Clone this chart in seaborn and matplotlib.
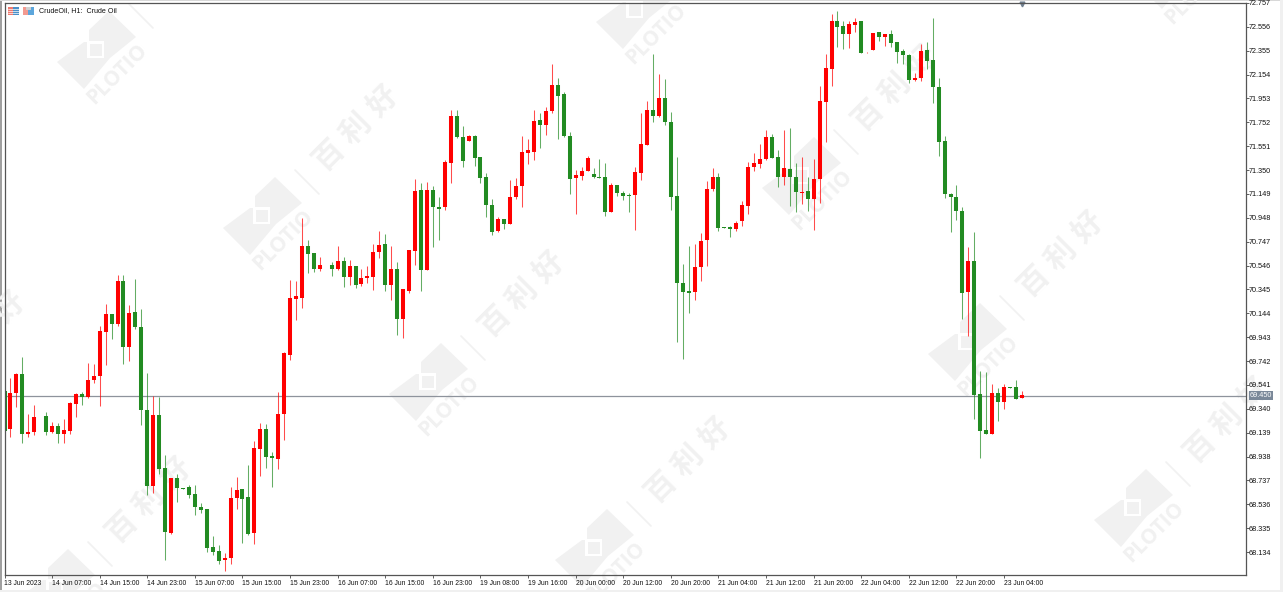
import matplotlib
matplotlib.use("Agg")
import matplotlib.pyplot as plt
from matplotlib.patches import Polygon, Rectangle
import pandas as pd
import seaborn as sns

W, H = 1283, 592
GREEN = "#228B22"
RED = "#FF0000"
MARK = "#F1F1F1"

open_prices = [
    69.493, 69.170, 69.470, 69.633, 69.128, 69.145, 69.274, 69.279, 69.145, 69.192,
    69.131, 69.156, 69.383, 69.467, 69.439, 69.582, 69.613, 69.989, 70.138, 70.051,
    70.419, 69.858, 70.155, 70.032, 69.327, 68.687, 69.288, 68.841, 68.291, 68.754,
    68.670, 68.681, 68.622, 68.516, 68.493, 68.179, 68.142, 68.069, 68.081, 68.586,
    68.662, 68.594, 68.291, 69.004, 69.170, 68.942, 68.917, 69.293, 69.793, 70.265,
    70.276, 70.711, 70.652, 70.517, 70.551, 70.551, 70.514, 70.582, 70.450, 70.539,
    70.388, 70.438, 70.450, 70.663, 70.728, 70.382, 70.514, 70.093, 70.332, 70.669,
    71.182, 70.506, 71.182, 71.039, 71.039, 71.410, 71.808, 71.631, 71.598, 71.640,
    71.457, 71.289, 71.056, 70.837, 70.938, 70.896, 71.126, 71.216, 71.497, 71.502,
    71.769, 71.730, 71.848, 72.064, 71.991, 71.634, 71.283, 71.303, 71.345, 71.317,
    71.295, 71.289, 70.994, 71.224, 71.160, 71.140, 71.140, 71.325, 71.558, 71.856,
    71.808, 71.957, 71.758, 71.132, 70.399, 70.329, 70.320, 70.537, 70.758, 71.188,
    71.295, 70.868, 70.868, 70.851, 70.918, 71.050, 71.376, 71.401, 71.443, 71.631,
    71.457, 71.295, 71.356, 71.295, 71.157, 71.177, 71.109, 71.272, 71.926, 72.198,
    72.602, 72.560, 72.496, 72.571, 72.602, 72.341, 72.364, 72.510, 72.468, 72.496,
    72.426, 72.353, 72.319, 72.108, 72.122, 72.358, 72.277, 72.052, 71.595, 71.146,
    71.123, 71.005, 70.320, 70.582, 69.462, 69.161, 69.125, 69.473, 69.394, 69.520,
    69.523, 69.433,
]
high_prices = [
    69.493, 69.597, 69.639, 69.773, 69.296, 69.372, 69.274, 69.316, 69.226, 69.218,
    69.254, 69.394, 69.476, 69.479, 69.723, 69.714, 70.037, 70.220, 70.138, 70.469,
    70.469, 70.214, 70.433, 70.180, 69.639, 69.451, 69.442, 68.954, 68.754, 68.788,
    68.670, 68.698, 68.698, 68.544, 68.493, 68.269, 68.193, 68.123, 68.679, 68.763,
    68.662, 68.867, 69.066, 69.223, 69.212, 68.979, 69.481, 69.815, 70.425, 70.413,
    70.944, 70.758, 70.652, 70.615, 70.551, 70.573, 70.711, 70.615, 70.593, 70.545,
    70.514, 70.545, 70.728, 70.837, 70.812, 70.711, 70.576, 70.346, 70.677, 71.278,
    71.238, 71.252, 71.219, 71.123, 71.435, 71.856, 71.856, 71.721, 71.645, 71.643,
    71.457, 71.323, 71.104, 70.958, 70.938, 71.266, 71.283, 71.640, 71.609, 71.856,
    71.828, 71.878, 72.241, 72.128, 72.005, 71.671, 71.351, 71.373, 71.466, 71.365,
    71.443, 71.412, 71.244, 71.227, 71.171, 71.154, 71.376, 71.828, 71.932, 72.328,
    72.159, 72.117, 71.842, 71.457, 70.556, 70.714, 70.725, 70.817, 71.258, 71.370,
    71.323, 70.868, 70.882, 70.918, 71.090, 71.415, 71.494, 71.570, 71.688, 71.657,
    71.519, 71.690, 71.707, 71.410, 71.463, 71.289, 71.443, 72.058, 72.327, 72.664,
    72.689, 72.608, 72.602, 72.628, 72.608, 72.347, 72.504, 72.515, 72.498, 72.529,
    72.428, 72.367, 72.324, 72.170, 72.411, 72.426, 72.628, 72.125, 71.640, 71.160,
    71.224, 71.036, 70.702, 70.831, 69.661, 69.650, 69.546, 69.512, 69.549, 69.520,
    69.582, 69.487,
]
low_prices = [
    69.156, 69.105, 69.358, 69.055, 69.100, 69.119, 69.271, 69.119, 69.133, 69.055,
    69.049, 69.128, 69.274, 69.372, 69.434, 69.554, 69.366, 69.709, 69.925, 70.040,
    69.714, 69.745, 70.012, 69.204, 68.611, 68.628, 68.791, 68.067, 68.286, 68.558,
    68.667, 68.586, 68.446, 68.460, 68.137, 68.109, 68.030, 67.974, 68.033, 68.493,
    68.210, 68.277, 68.199, 68.774, 68.841, 68.684, 68.830, 69.074, 69.751, 70.088,
    70.186, 70.481, 70.492, 70.500, 70.548, 70.458, 70.509, 70.368, 70.382, 70.357,
    70.374, 70.399, 70.340, 70.612, 70.332, 70.256, 69.961, 69.939, 70.312, 70.551,
    70.335, 70.506, 70.702, 70.761, 71.014, 71.244, 71.620, 71.376, 71.592, 71.387,
    71.244, 70.958, 70.803, 70.831, 70.851, 70.896, 71.109, 71.039, 71.401, 71.435,
    71.533, 71.645, 71.828, 71.615, 71.631, 71.149, 70.983, 71.266, 71.339, 71.283,
    71.283, 70.963, 70.994, 71.135, 71.098, 70.997, 70.845, 71.266, 71.558, 71.758,
    71.800, 71.732, 71.014, 69.899, 69.756, 70.144, 70.256, 70.413, 70.545, 71.171,
    70.834, 70.865, 70.789, 70.837, 70.882, 70.983, 71.342, 71.365, 71.438, 71.449,
    71.210, 71.222, 71.050, 70.994, 71.064, 71.008, 70.845, 71.076, 71.583, 72.058,
    72.389, 72.372, 72.381, 72.510, 72.333, 72.338, 72.361, 72.440, 72.397, 72.383,
    72.254, 72.240, 72.086, 72.100, 72.100, 72.204, 71.917, 71.471, 71.117, 70.831,
    70.932, 70.096, 69.953, 69.257, 68.928, 69.125, 69.125, 69.237, 69.338, 69.517,
    69.419, 69.430,
]
close_prices = [
    69.156, 69.470, 69.633, 69.125, 69.145, 69.274, 69.271, 69.145, 69.192, 69.128,
    69.161, 69.389, 69.467, 69.439, 69.580, 69.616, 69.992, 70.138, 70.057, 70.419,
    69.858, 70.149, 70.026, 69.327, 68.687, 69.288, 68.833, 68.305, 68.754, 68.670,
    68.667, 68.611, 68.513, 68.488, 68.168, 68.134, 68.058, 68.084, 68.592, 68.656,
    68.580, 68.288, 69.010, 69.170, 68.931, 68.926, 69.293, 69.807, 70.270, 70.290,
    70.711, 70.643, 70.517, 70.551, 70.548, 70.514, 70.582, 70.450, 70.545, 70.385,
    70.444, 70.458, 70.663, 70.719, 70.382, 70.514, 70.093, 70.346, 70.677, 71.177,
    70.506, 71.182, 71.039, 71.025, 71.418, 71.808, 71.626, 71.426, 71.637, 71.452,
    71.283, 71.053, 70.831, 70.938, 70.896, 71.126, 71.213, 71.502, 71.519, 71.763,
    71.730, 71.848, 72.064, 71.974, 71.634, 71.272, 71.309, 71.342, 71.452, 71.289,
    71.283, 71.000, 71.224, 71.154, 71.132, 71.135, 71.334, 71.570, 71.856, 71.808,
    71.957, 71.752, 71.123, 70.396, 70.326, 70.315, 70.537, 70.756, 71.188, 71.295,
    70.859, 70.865, 70.851, 70.904, 71.056, 71.373, 71.407, 71.443, 71.626, 71.452,
    71.289, 71.365, 71.292, 71.165, 71.168, 71.109, 71.275, 71.932, 72.207, 72.602,
    72.557, 72.496, 72.577, 72.597, 72.338, 72.347, 72.501, 72.473, 72.496, 72.420,
    72.341, 72.319, 72.108, 72.125, 72.353, 72.271, 72.047, 71.589, 71.146, 71.123,
    71.002, 70.315, 70.582, 69.456, 69.153, 69.125, 69.473, 69.394, 69.523, 69.517,
    69.425, 69.453,
]

price_ticks = [72.757, 72.556, 72.355, 72.154, 71.953, 71.752, 71.551, 71.350,
               71.149, 70.948, 70.747, 70.546, 70.345, 70.144, 69.943, 69.742,
               69.541, 69.340, 69.139, 68.938, 68.737, 68.536, 68.335, 68.134]
time_labels = ["13 Jun 2023", "14 Jun 07:00", "14 Jun 15:00", "14 Jun 23:00",
               "15 Jun 07:00", "15 Jun 15:00", "15 Jun 23:00", "16 Jun 07:00",
               "16 Jun 15:00", "16 Jun 23:00", "19 Jun 08:00", "19 Jun 16:00",
               "20 Jun 00:00", "20 Jun 12:00", "20 Jun 20:00", "21 Jun 04:00",
               "21 Jun 12:00", "21 Jun 20:00", "22 Jun 04:00", "22 Jun 12:00",
               "22 Jun 20:00", "23 Jun 04:00"]
last_price = 69.450

sns.set_theme(style="white")
plt.rcParams["font.family"] = ["Liberation Sans", "Noto Sans CJK SC"]

df = pd.DataFrame({"open": open_prices, "high": high_prices,
                   "low": low_prices, "close": close_prices})
df["bar"] = df.index
df["side"] = ["up" if c >= o else "down" for o, c in zip(df.open, df.close)]
wicks = df.melt(id_vars=["bar", "side"], value_vars=["high", "low"], value_name="price")
bodies = df.melt(id_vars=["bar", "side"], value_vars=["open", "close"], value_name="price")

fig = plt.figure(figsize=(W / 100, H / 100), dpi=100, facecolor="white")

# pixel-space layer for the watermark and the window chrome
bg = fig.add_axes([0, 0, 1, 1], zorder=0)
bg.set_xlim(0, W)
bg.set_ylim(H, 0)
bg.axis("off")

logo = [(-38, 12), (-11, -8), (-6, -8), (-6, -20), (14, -39), (41, -13), (15, 8), (-11, 39)]
for sx, sy, n in [(95, 50, 4), (634, 10, 4), (1173, -30, 1), (-112, 422, 2)]:
    for k in range(n):
        rx, ry = sx + 166 * k, sy + 166 * k
        bg.add_patch(Polygon([(rx + a, ry + b) for a, b in logo], color=MARK, lw=0))
        bg.add_patch(Rectangle((rx - 8, ry - 9), 17, 17, color="white", lw=0))
        bg.add_patch(Rectangle((rx - 5, ry - 6), 12, 12, color=MARK, lw=0))
        bg.text(rx + 22, ry + 24, "PLOTIO", color=MARK, fontsize=15, fontweight="bold",
                rotation=45, ha="center", va="center", rotation_mode="anchor",
                family="Open Sans")
        bg.plot([rx + 34, rx + 58], [ry - 46, ry - 22], color=MARK, lw=1.2)
        for j, ch in enumerate("百利好"):
            cx, cy = rx + 95 + (j - 1) * 27, ry - 87 - (j - 1) * 27
            if cx < 0 or cx > W or cy < 0 or cy > H:
                continue
            bg.text(cx, cy, ch, color=MARK, fontsize=21.5, fontweight="bold", rotation=45,
                    ha="center", va="center", rotation_mode="anchor")

# window edges
bg.add_patch(Rectangle((0, 0), 1.5, H, color="#A0A0A0", lw=0))
bg.add_patch(Rectangle((0, 0), W, 1, color="#D8D8D8", lw=0))
bg.add_patch(Rectangle((W - 3, 0), 3, H, color="#F0F0F0", lw=0))
bg.add_patch(Rectangle((0, H - 2), W, 2, color="#F0F0F0", lw=0))

# toolbar icons
for x0, c1, c2 in [(8, "#F0796F", "#4A90C8"), (23, "#F39A90", "#5CA6DC")]:
    bg.add_patch(Rectangle((x0, 6.5), 5, 8.5, color=c1, lw=0))
    bg.add_patch(Rectangle((x0 + 5, 6.5), 6, 8.5, color=c2, lw=0))
for y in [9, 11, 13]:
    bg.plot([8, 19], [y, y], color="white", lw=0.5)
bg.add_patch(Rectangle((26, 6.5), 5, 3, color="#D0D0D0", lw=0))
bg.text(39, 10.5, "CrudeOil, H1:  Crude Oil", fontsize=5.1, color="#111111", va="center")

# chart area in pixels
left, right, top, bottom = 4.5, 1246, 2.5, 575
ax = fig.add_axes([left / W, 1 - bottom / H, (right - left) / W, (bottom - top) / H], zorder=2)
ax.patch.set_alpha(0)

palette = {"up": RED, "down": GREEN}
sns.lineplot(data=wicks, x="bar", y="price", hue="side", units="bar", estimator=None,
             errorbar=None, palette=palette, legend=False, lw=0.75, alpha=0.7,
             solid_capstyle="butt", ax=ax)
sns.lineplot(data=bodies, x="bar", y="price", hue="side", units="bar", estimator=None,
             errorbar=None, palette=palette, legend=False, lw=2.9,
             solid_capstyle="butt", ax=ax)

ax.axhline(last_price, color="#8E939C", lw=0.9, zorder=1)
ax.set_xlim(0, (right - left) / 5.95)
ax.set_ylim(72.782 - bottom * 0.00842, 72.782 - top * 0.00842)

ax.set_xticks(range(0, 8 * len(time_labels), 8))
ax.set_xticklabels(time_labels, ha="left", fontsize=4.9, color="#111111")
ax.set_yticks(price_ticks)
ax.set_yticklabels([f"{p:.3f}" for p in price_ticks], fontsize=5.2, color="#111111")
ax.yaxis.tick_right()
ax.tick_params(axis="x", length=2.4, width=0.6, color="#444444", pad=1.2, bottom=True)
ax.tick_params(axis="y", length=1.9, width=0.6, color="#444444", pad=0.3, right=True, left=False)
ax.set_xlabel("")
ax.set_ylabel("")
ax.grid(False)
for side in ax.spines:
    ax.spines[side].set_visible(True)
    ax.spines[side].set_color("#555555")
    ax.spines[side].set_linewidth(0.9)

# current price tag and last-bar marker
ax.annotate(f"{last_price:.3f}", xy=(1, last_price), xycoords=("axes fraction", "data"),
            xytext=(2.8, 0), textcoords="offset points", fontsize=5.2, color="white",
            va="center", annotation_clip=False,
            bbox=dict(boxstyle="square,pad=0.15", fc="#7A8899", ec="none"))
ax.plot([len(open_prices) - 1], [72.748], marker="v", ms=3.4, color="#708090", clip_on=False)

fig.savefig("out.png", dpi=100)
plt.close(fig)
